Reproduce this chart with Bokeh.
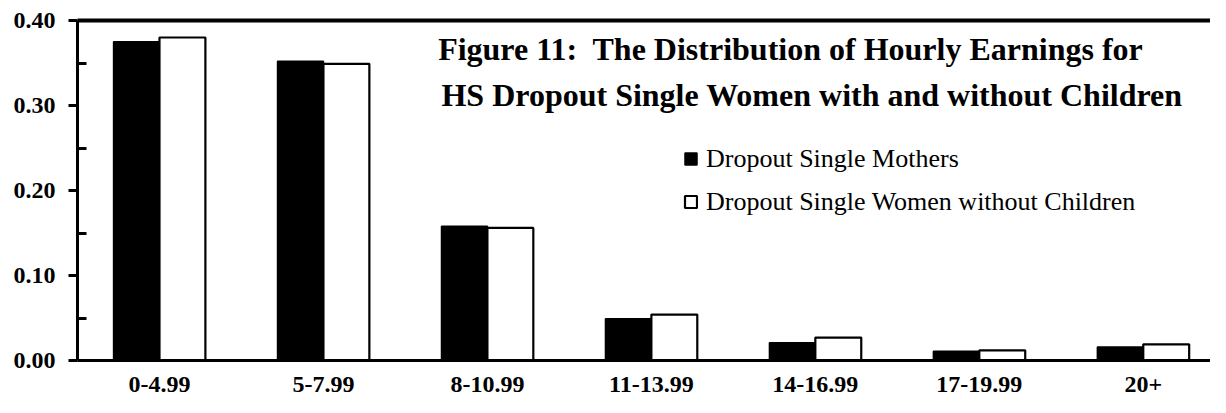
from bokeh.plotting import figure
from bokeh.models import (ColumnDataSource, FixedTicker, NumeralTickFormatter, LinearAxis,
                          Legend, LegendItem, Label)
from bokeh.embed import file_html
from bokeh.resources import INLINE

categories = ["0-4.99", "5-7.99", "8-10.99", "11-13.99", "14-16.99", "17-19.99", "20+"]
mothers = [0.375, 0.352, 0.158, 0.049, 0.021, 0.011, 0.016]
without_children = [0.380, 0.349, 0.156, 0.054, 0.027, 0.012, 0.019]
series_names = ["Dropout Single Mothers", "Dropout Single Women without Children"]
title_lines = ["Figure 11:\u00a0 The Distribution of Hourly Earnings for",
               "HS Dropout Single Women with and without Children"]
y_ticks = [0.0, 0.1, 0.2, 0.3, 0.4]
y_minor = [0.05, 0.15, 0.25, 0.35]

centers = [i + 0.5 for i in range(len(categories))]
src = ColumnDataSource(dict(xm=[c - 0.14 for c in centers], xw=[c + 0.14 for c in centers],
                            m=mothers, w=without_children))

SERIF = "Liberation Serif"

p = figure(width=1210, height=397, x_range=(0, 6.91), y_range=(0, 0.4),
           output_backend="svg", toolbar_location=None,
           min_border_left=77, min_border_top=20, min_border_bottom=37, min_border_right=0)
p.background_fill_color = "white"
p.border_fill_color = "white"
p.outline_line_color = None
p.grid.grid_line_color = None

r1 = p.vbar(x="xm", top="m", width=0.28, source=src,
            fill_color="black", line_color="black", line_width=1.5)
r2 = p.vbar(x="xw", top="w", width=0.28, source=src,
            fill_color="white", line_color="black", line_width=2.2)

# y axis
ya = p.yaxis[0]
ya.ticker = FixedTicker(ticks=y_ticks, minor_ticks=y_minor)
ya.formatter = NumeralTickFormatter(format="0.00")
ya.axis_line_width = 3
ya.major_tick_line_width = 3
ya.major_tick_out = 9
ya.major_tick_in = 0
ya.minor_tick_line_width = 3
ya.minor_tick_in = 9
ya.minor_tick_out = 0
ya.major_label_text_font = SERIF
ya.major_label_text_font_style = "bold"
ya.major_label_text_font_size = "24px"
ya.major_label_text_color = "black"
ya.major_label_standoff = 13

# x axis
xa = p.xaxis[0]
xa.ticker = FixedTicker(ticks=centers)
xa.major_label_overrides = {c: lab for c, lab in zip(centers, categories)}
xa.axis_line_width = 3
xa.major_tick_line_color = None
xa.minor_tick_line_color = None
xa.major_label_text_font = SERIF
xa.major_label_text_font_style = "bold"
xa.major_label_text_font_size = "24px"
xa.major_label_text_color = "black"
xa.major_label_standoff = 10

# top border line
top = LinearAxis(ticker=FixedTicker(ticks=[]), axis_line_width=4,
                 major_tick_line_color=None, minor_tick_line_color=None,
                 major_label_text_font_size="0px", major_label_standoff=0)
p.add_layout(top, "above")

# title (two lines inside the plot)
for t, xv, yv in zip(title_lines, [4.35, 4.48], [0.366, 0.312]):
    p.add_layout(Label(x=xv, y=yv, text=t, text_align="center", text_baseline="middle",
                       text_font=SERIF, text_font_style="bold", text_font_size="32px",
                       text_color="black"))

legend = Legend(items=[LegendItem(label=series_names[0], renderers=[r1]),
                       LegendItem(label=series_names[1], renderers=[r2])],
                location=(606, 143))
legend.label_text_font = SERIF
legend.label_text_font_size = "26px"
legend.label_text_color = "black"
legend.label_height = 31
legend.glyph_width = 15
legend.glyph_height = 15
legend.label_standoff = 8
legend.spacing = 12
legend.padding = 0
legend.margin = 0
legend.border_line_color = None
legend.background_fill_alpha = 0
p.add_layout(legend)

open("out.html", "w").write(file_html(p, INLINE))
